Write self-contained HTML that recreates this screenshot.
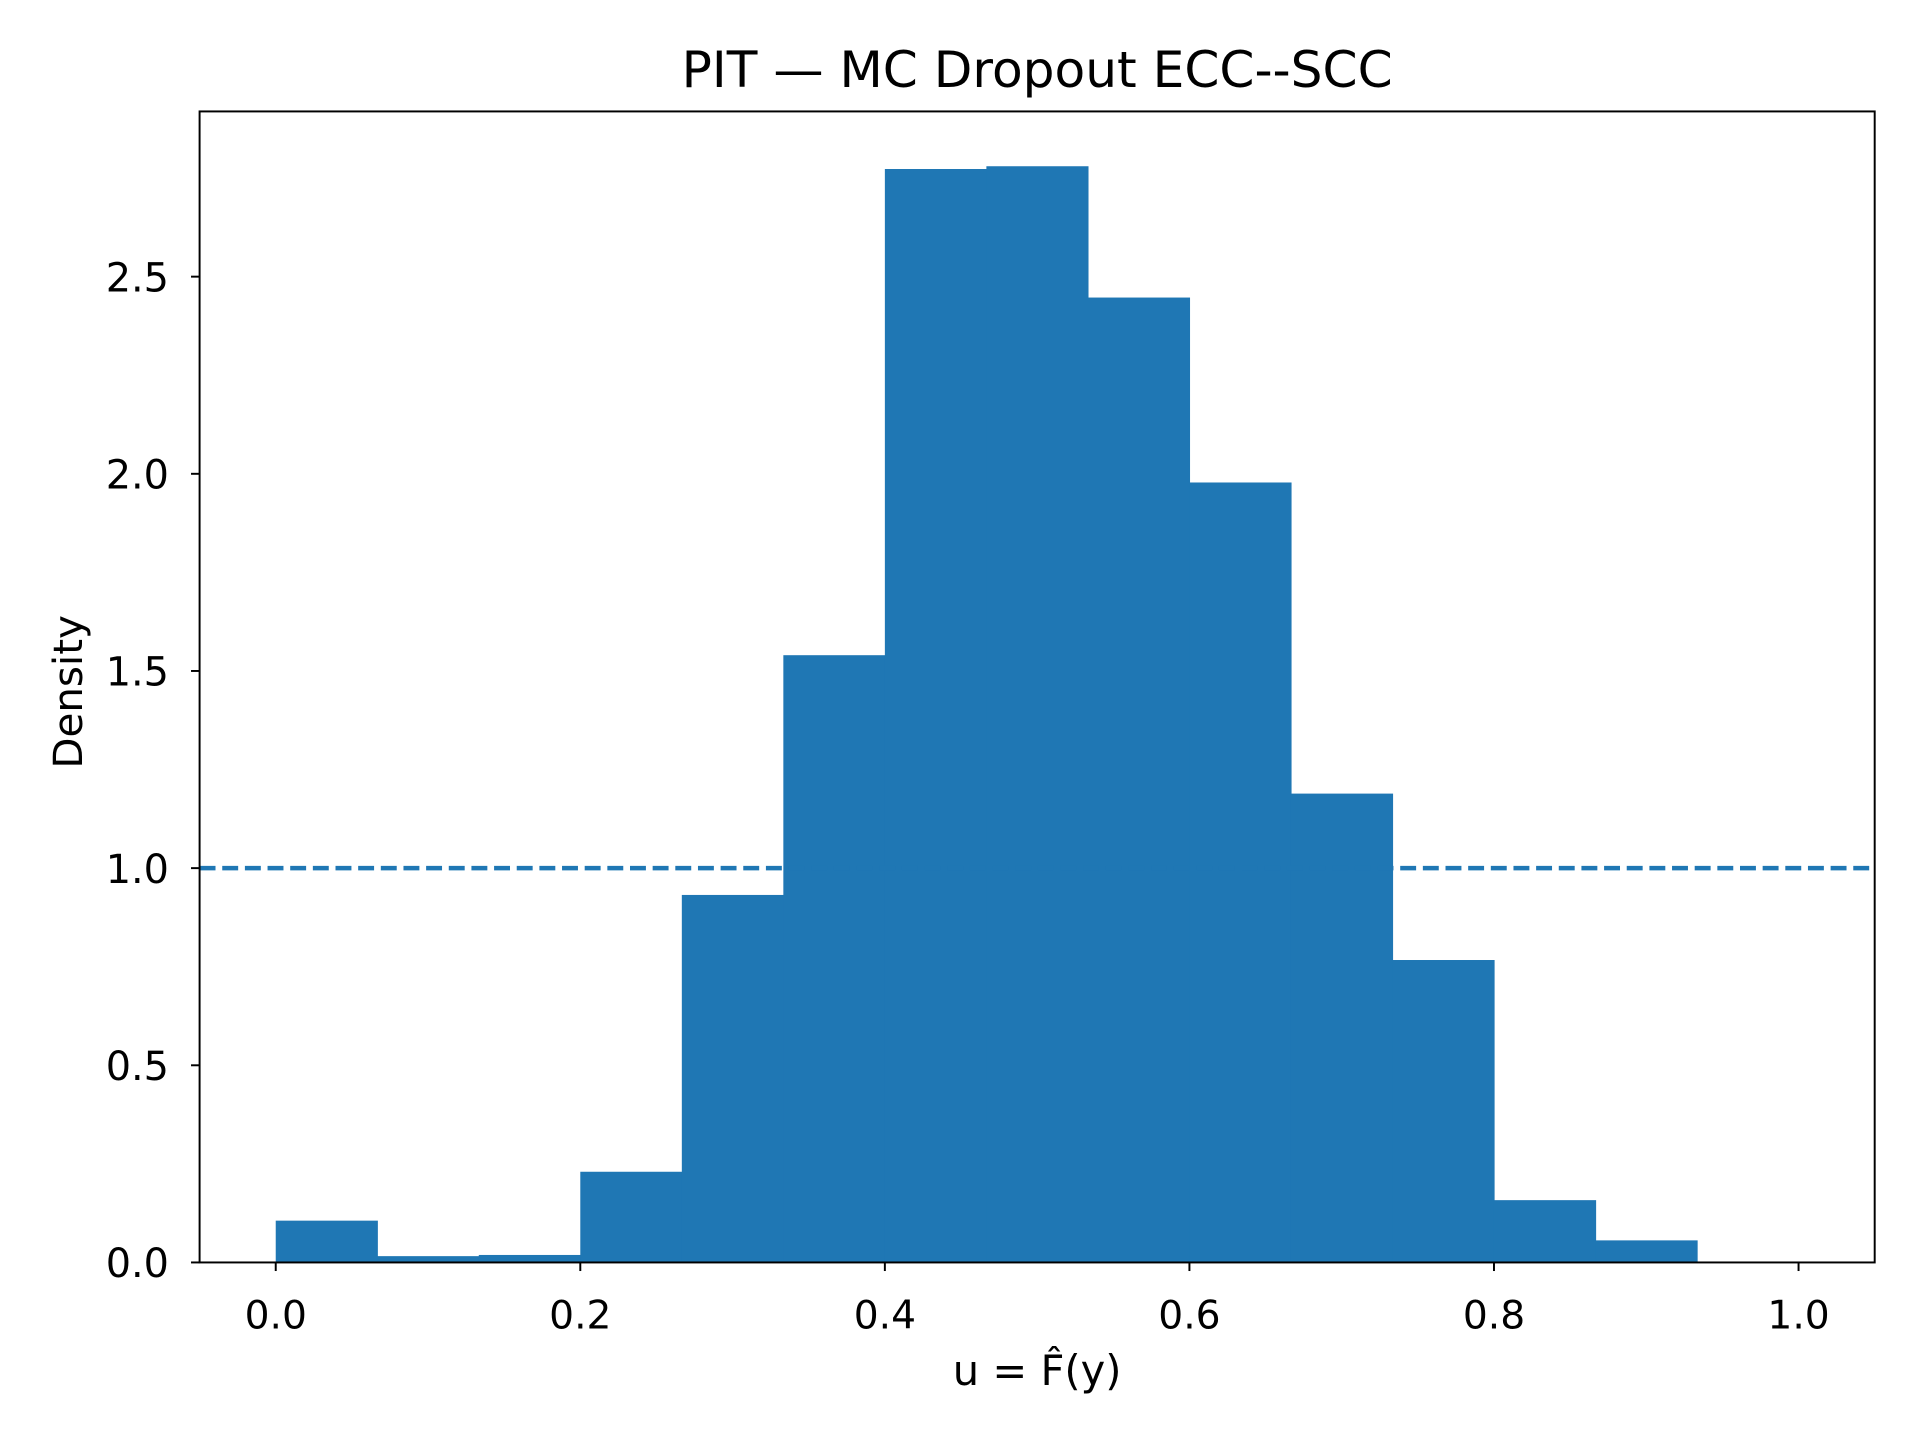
<!DOCTYPE html>
<html><head><meta charset="utf-8"><style>
html,body{margin:0;padding:0;background:#fff;}
svg{display:block;}
text{font-family:"DejaVu Sans","Liberation Sans",sans-serif;fill:#000;}
</style></head><body>
<svg id="chart" width="1920" height="1440" viewBox="0 0 1568 1176" xmlns="http://www.w3.org/2000/svg">
<rect width="1568" height="1176" fill="#fff"/>
<text x="847" y="71" font-size="41" text-anchor="middle">PIT — MC Dropout ECC--SCC</text>
<g id="bars"></g>
<g id="ref"></g>
<g id="xticks"></g>
<g id="yticks"></g>
<rect x="163" y="91" width="1368" height="940" fill="none" stroke="#000" stroke-width="1.6"/>
<text x="847" y="1131" font-size="34" text-anchor="middle">u = F̂(y)</text>
<text x="67" y="565" font-size="33" text-anchor="middle" transform="rotate(-90 67 565)">Density</text>
</svg>
<script>
const binEdges=[0,1/15,2/15,3/15,4/15,5/15,6/15,7/15,8/15,9/15,10/15,11/15,12/15,13/15,14/15,1];
const densities=[0.106,0.016,0.019,0.23,0.932,1.54,2.773,2.78,2.447,1.978,1.189,0.767,0.158,0.056,0];
const xTicks=[0,0.2,0.4,0.6,0.8,1.0];
const xTickLabels=["0.0","0.2","0.4","0.6","0.8","1.0"];
const yTicks=[0,0.5,1.0,1.5,2.0,2.5];
const yTickLabels=["0.0","0.5","1.0","1.5","2.0","2.5"];
const refLevel=[1.0];
const L=163,R=1531,T=91,B=1031,xmin=-0.05,xmax=1.05,ymin=0,ymax=2.919;
const X=v=>L+(v-xmin)/(xmax-xmin)*(R-L);
const Y=v=>B-(v-ymin)/(ymax-ymin)*(B-T);
const NS="http://www.w3.org/2000/svg";
function mk(t,a){const e=document.createElementNS(NS,t);for(const k in a)e.setAttribute(k,a[k]);return e;}
const bars=document.getElementById('bars');
densities.forEach((d,i)=>{const x0=X(binEdges[i]),x1=X(binEdges[i+1]);
const r=mk('rect',{x:x0,y:Y(d),width:x1-x0+0.5,height:B-Y(d),fill:'#1f77b4'});


bars.appendChild(r);});
const ref=document.getElementById('ref');
refLevel.forEach(v=>{const l=mk('line',{x1:L,x2:R,y1:Y(v),y2:Y(v),stroke:'#1f77b4','stroke-width':3.6,'stroke-dasharray':'13,5.5'});


ref.appendChild(l);});
const xg=document.getElementById('xticks');
xTicks.forEach((v,i)=>{const x=X(v);
const t=mk('line',{x1:x,x2:x,y1:B,y2:B+7,stroke:'#000','stroke-width':1.6});


xg.appendChild(t);
const s=mk('text',{x:x,y:B+54,'font-size':32,'text-anchor':'middle'});s.textContent=xTickLabels[i];


xg.appendChild(s);});
const yg=document.getElementById('yticks');
yTicks.forEach((v,i)=>{const y=Y(v);
const t=mk('line',{x1:L-7,x2:L,y1:y,y2:y,stroke:'#000','stroke-width':1.6});


yg.appendChild(t);
const s=mk('text',{x:L-25,y:y+12,'font-size':32.5,'text-anchor':'end'});s.textContent=yTickLabels[i];


yg.appendChild(s);});
</script>
</body></html>
